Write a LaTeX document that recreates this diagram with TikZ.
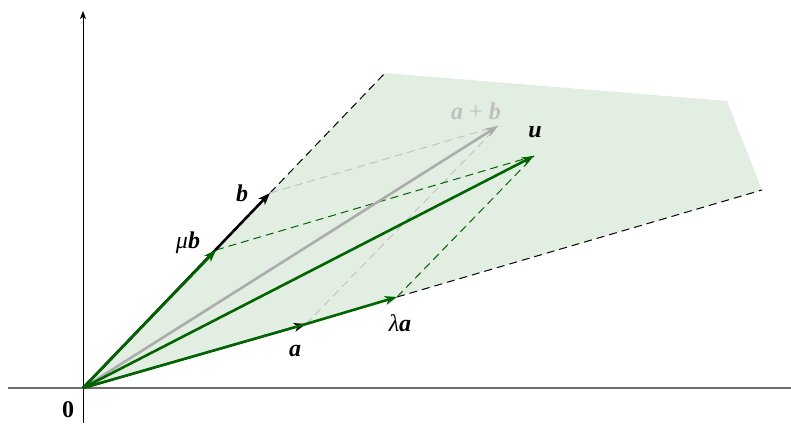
\documentclass[tikz,border=0pt]{standalone}
\usepackage{fontspec}
\setmainfont{Liberation Serif}
\usetikzlibrary{arrows.meta}
\definecolor{vgreen}{RGB}{0,100,0}
\definecolor{planefill}{RGB}{227,238,227}
\definecolor{vgray}{RGB}{172,172,172}
\definecolor{lgray}{RGB}{192,192,192}
\definecolor{axgray}{RGB}{110,110,110}
\newcommand{\bvl}[1]{\textbf{\textit{#1}}}
\begin{document}
\begin{tikzpicture}[x=0.5pt,y=-0.5pt,
  tipstyle/.style={-{Stealth[length=6pt,width=4.4pt,inset=1.6pt]}},
  vec/.style={line width=1.3pt,tipstyle},
  gvec/.style={vec,draw=vgreen,fill=vgreen},
  bvec/.style={vec,draw=black,fill=black},
  grayvec/.style={vec,draw=vgray,fill=vgray},
  helpgray/.style={dash pattern=on 4pt off 2.5pt,lgray,line width=0.45pt},
  helpgreen/.style={dash pattern=on 4pt off 2.5pt,vgreen,line width=0.5pt},
  helpblack/.style={dash pattern=on 4pt off 2.5pt,black,line width=0.5pt},
  lbl/.style={font=\fontsize{12}{14}\selectfont,inner sep=1pt}
]
\useasboundingbox (0,0) rectangle (791,423);
% points
\coordinate (O) at (83,388);
\coordinate (A) at (306,324);
\coordinate (LA) at (397,297);
\coordinate (MB) at (216,250);
\coordinate (B) at (270,193);
\coordinate (AB) at (498,126);
\coordinate (U) at (534,156);
\coordinate (P1) at (385,73);
\coordinate (P2) at (727,101);
\coordinate (P3) at (762,190);
\coordinate (Ybot) at (83,423);
\coordinate (Ytop) at (83,11);
\coordinate (Xl) at (8,388);
\coordinate (Xr) at (791,388);
% plane
\fill[planefill] (O) -- (P1) -- (P2) -- (P3) -- (LA) -- cycle;
% axes
\draw[axgray,line width=0.9pt] (Xl) -- (Xr);
\draw[black,line width=0.5pt,-{Stealth[length=4pt,width=3pt,inset=1pt]}] (Ybot) -- (Ytop);
% helper dashed lines
\draw[helpblack] (B) -- (P1);
\draw[helpblack] (LA) -- (P3);
\draw[helpgray] (B) -- (AB);
\draw[helpgray] (A) -- (AB);
\draw[helpgreen] (MB) -- (U);
\draw[helpgreen] (LA) -- (U);
% vectors
\draw[grayvec] (O) -- (AB);
\draw[bvec] (O) -- (B);
\draw[bvec,line width=1pt] (O) -- (A);
\draw[gvec] (O) -- (MB);
\draw[gvec] (A) -- (LA);
\draw[vgreen,line width=1.3pt] (O) -- (A);
\draw[gvec] (O) -- (U);
% labels
\node[lbl] (l0) at (68,410) {\textbf{0}};
\node[lbl] (la) at (295,351) {\bvl{a}};
\node[lbl] (lla) at (400,323) {\textit{λ}\bvl{a}};
\node[lbl] (lmb) at (188,243) {\textit{μ}\bvl{b}};
\node[lbl] (lb) at (242,193) {\bvl{b}};
\node[lbl,text=lgray] (lab) at (476,111) {\bvl{a} + \bvl{b}};
\node[lbl] (lu) at (535,132) {\bvl{u}};
\end{tikzpicture}
\end{document}
